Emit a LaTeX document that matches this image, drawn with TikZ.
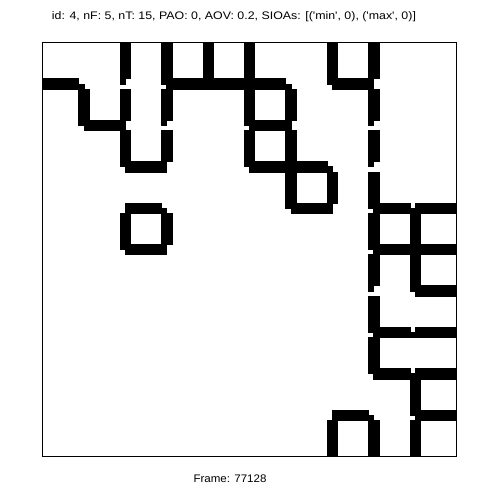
\documentclass[tikz,border=0pt]{standalone}
\usepackage{fontspec}
\setmainfont{Liberation Sans}
\newcommand\sq{\textquotesingle}
\newcommand\mzO{42.3}
\newcommand\mzS{5.175}
% one pixel of the 80x80 maze image
\newcommand\mzPix[2]{\fill[wall] ({\mzO+(#1)*\mzS},{\mzO+(#2)*\mzS}) rectangle ({\mzO+(#1+1)*\mzS},{\mzO+(#2+1)*\mzS});}
% vertical unit wall between grid points (k,m) and (k,m+1), without its ends
\newcommand\mzVs[2]{\fill[wall] ({\mzO+(8*#1-1)*\mzS},{\mzO+(8*#2+1)*\mzS}) rectangle ({\mzO+(8*#1+1)*\mzS},{\mzO+(8*#2+7)*\mzS});}
% horizontal unit wall between grid points (k,m) and (k+1,m): args m, k
\newcommand\mzHs[2]{\fill[wall] ({\mzO+(8*#2+1)*\mzS},{\mzO+(8*#1-1)*\mzS}) rectangle ({\mzO+(8*#2+7)*\mzS},{\mzO+(8*#1+1)*\mzS});}
% junction pixels at grid point (k,m)
\newcommand\mzTL[2]{\mzPix{8*#1-1}{8*#2-1}}
\newcommand\mzTR[2]{\mzPix{8*#1}{8*#2-1}}
\newcommand\mzBL[2]{\mzPix{8*#1-1}{8*#2}}
\newcommand\mzBR[2]{\mzPix{8*#1}{8*#2}}
\newcommand\mzRt[2]{\mzTR{#1}{#2}\mzBR{#1}{#2}}
\newcommand\mzFull[2]{\mzTL{#1}{#2}\mzTR{#1}{#2}\mzBL{#1}{#2}\mzBR{#1}{#2}}
\tikzset{wall/.style={fill=black, draw=black, line width=0.15bp},
  lbl/.style={font=\fontsize{11}{13}\selectfont, inner sep=0pt}}
\begin{document}
\begin{tikzpicture}[x=1bp,y=-1bp]
\useasboundingbox (0,0) rectangle (500,500);
\fill[white] (0,0) rectangle (500,500);
\begin{scope}
\clip (\mzO,\mzO) rectangle (456.3,456.3);
% ---- vertical unit walls (k,m)
\mzVs{1}{1}
\mzVs{2}{0}\mzVs{2}{1}\mzVs{2}{2}\mzVs{2}{4}
\mzVs{3}{0}\mzVs{3}{1}\mzVs{3}{2}\mzVs{3}{4}
\mzVs{4}{0}
\mzVs{5}{0}\mzVs{5}{1}\mzVs{5}{2}
\mzVs{6}{1}\mzVs{6}{2}\mzVs{6}{3}
\mzVs{7}{0}\mzVs{7}{3}\mzVs{7}{9}
\mzVs{8}{0}\mzVs{8}{1}\mzVs{8}{2}\mzVs{8}{3}\mzVs{8}{4}\mzVs{8}{5}\mzVs{8}{6}\mzVs{8}{7}\mzVs{8}{9}
\mzVs{9}{4}\mzVs{9}{5}\mzVs{9}{8}\mzVs{9}{9}
% ---- horizontal unit walls (m,k)
\mzHs{1}{0}\mzHs{1}{3}\mzHs{1}{4}\mzHs{1}{5}\mzHs{1}{7}
\mzHs{2}{1}\mzHs{2}{5}
\mzHs{3}{2}\mzHs{3}{5}\mzHs{3}{6}
\mzHs{4}{2}\mzHs{4}{6}\mzHs{4}{8}\mzHs{4}{9}
\mzHs{5}{2}\mzHs{5}{8}\mzHs{5}{9}
\mzHs{6}{9}
\mzHs{7}{8}\mzHs{7}{9}
\mzHs{8}{8}\mzHs{8}{9}
\mzHs{9}{7}\mzHs{9}{9}
% ---- junctions on the border
\mzFull{2}{0}\mzFull{3}{0}\mzFull{4}{0}\mzFull{5}{0}\mzFull{7}{0}\mzFull{8}{0}
\mzFull{0}{1}
\mzFull{10}{4}\mzFull{10}{5}\mzFull{10}{6}\mzFull{10}{7}\mzFull{10}{8}\mzFull{10}{9}
\mzFull{7}{10}\mzFull{8}{10}\mzFull{9}{10}
% ---- inner junctions
\mzBL{1}{1}
\mzTL{1}{2}\mzRt{1}{2}
\mzTL{2}{1}
\mzTL{2}{2}\mzBL{2}{2}
\mzTL{2}{3}\mzRt{2}{3}
\mzTL{3}{1}\mzRt{3}{1}
\mzTL{3}{2}
\mzTL{3}{3}\mzBL{3}{3}
\mzFull{4}{1}
\mzFull{5}{1}
\mzTL{5}{2}\mzRt{5}{2}
\mzTL{5}{3}\mzRt{5}{3}
\mzBL{6}{1}
\mzTL{6}{2}\mzBL{6}{2}
\mzFull{6}{3}
\mzTL{6}{4}\mzRt{6}{4}
\mzTL{7}{1}\mzRt{7}{1}
\mzBL{7}{3}
\mzTL{7}{4}\mzBL{7}{4}
\mzTL{8}{1}\mzBL{8}{1}
\mzTL{8}{2}
\mzTL{8}{3}
\mzTL{8}{4}\mzRt{8}{4}
\mzTL{8}{5}\mzRt{8}{5}
\mzTL{8}{6}
\mzTL{8}{7}\mzRt{8}{7}
\mzTL{8}{8}\mzRt{8}{8}
\mzBL{9}{4}\mzRt{9}{4}
\mzFull{9}{5}
\mzTL{9}{6}\mzRt{9}{6}
\mzBL{9}{7}\mzRt{9}{7}
\mzBL{9}{8}\mzRt{9}{8}
\mzTL{9}{9}\mzRt{9}{9}
\mzRt{7}{9}
\mzBL{8}{9}
% ring
\mzRt{2}{4}
\mzBL{3}{4}
\mzTL{2}{5}\mzRt{2}{5}
\mzTL{3}{5}\mzBL{3}{5}
\end{scope}
\draw[line width=1.1bp] (\mzO,\mzO) rectangle (456.3,456.3);
\node[lbl, anchor=base west] (title) at (51.7,19.3) {\resizebox{364bp}{\height}{id: 4, nF: 5, nT: 15, PAO: 0, AOV: 0.2, SIOAs: [(\sq min\sq, 0), (\sq max\sq, 0)]}};
\node[lbl, anchor=base west] (frame) at (193.3,482.3) {\resizebox{73bp}{\height}{Frame: 77128}};
\end{tikzpicture}
\end{document}
